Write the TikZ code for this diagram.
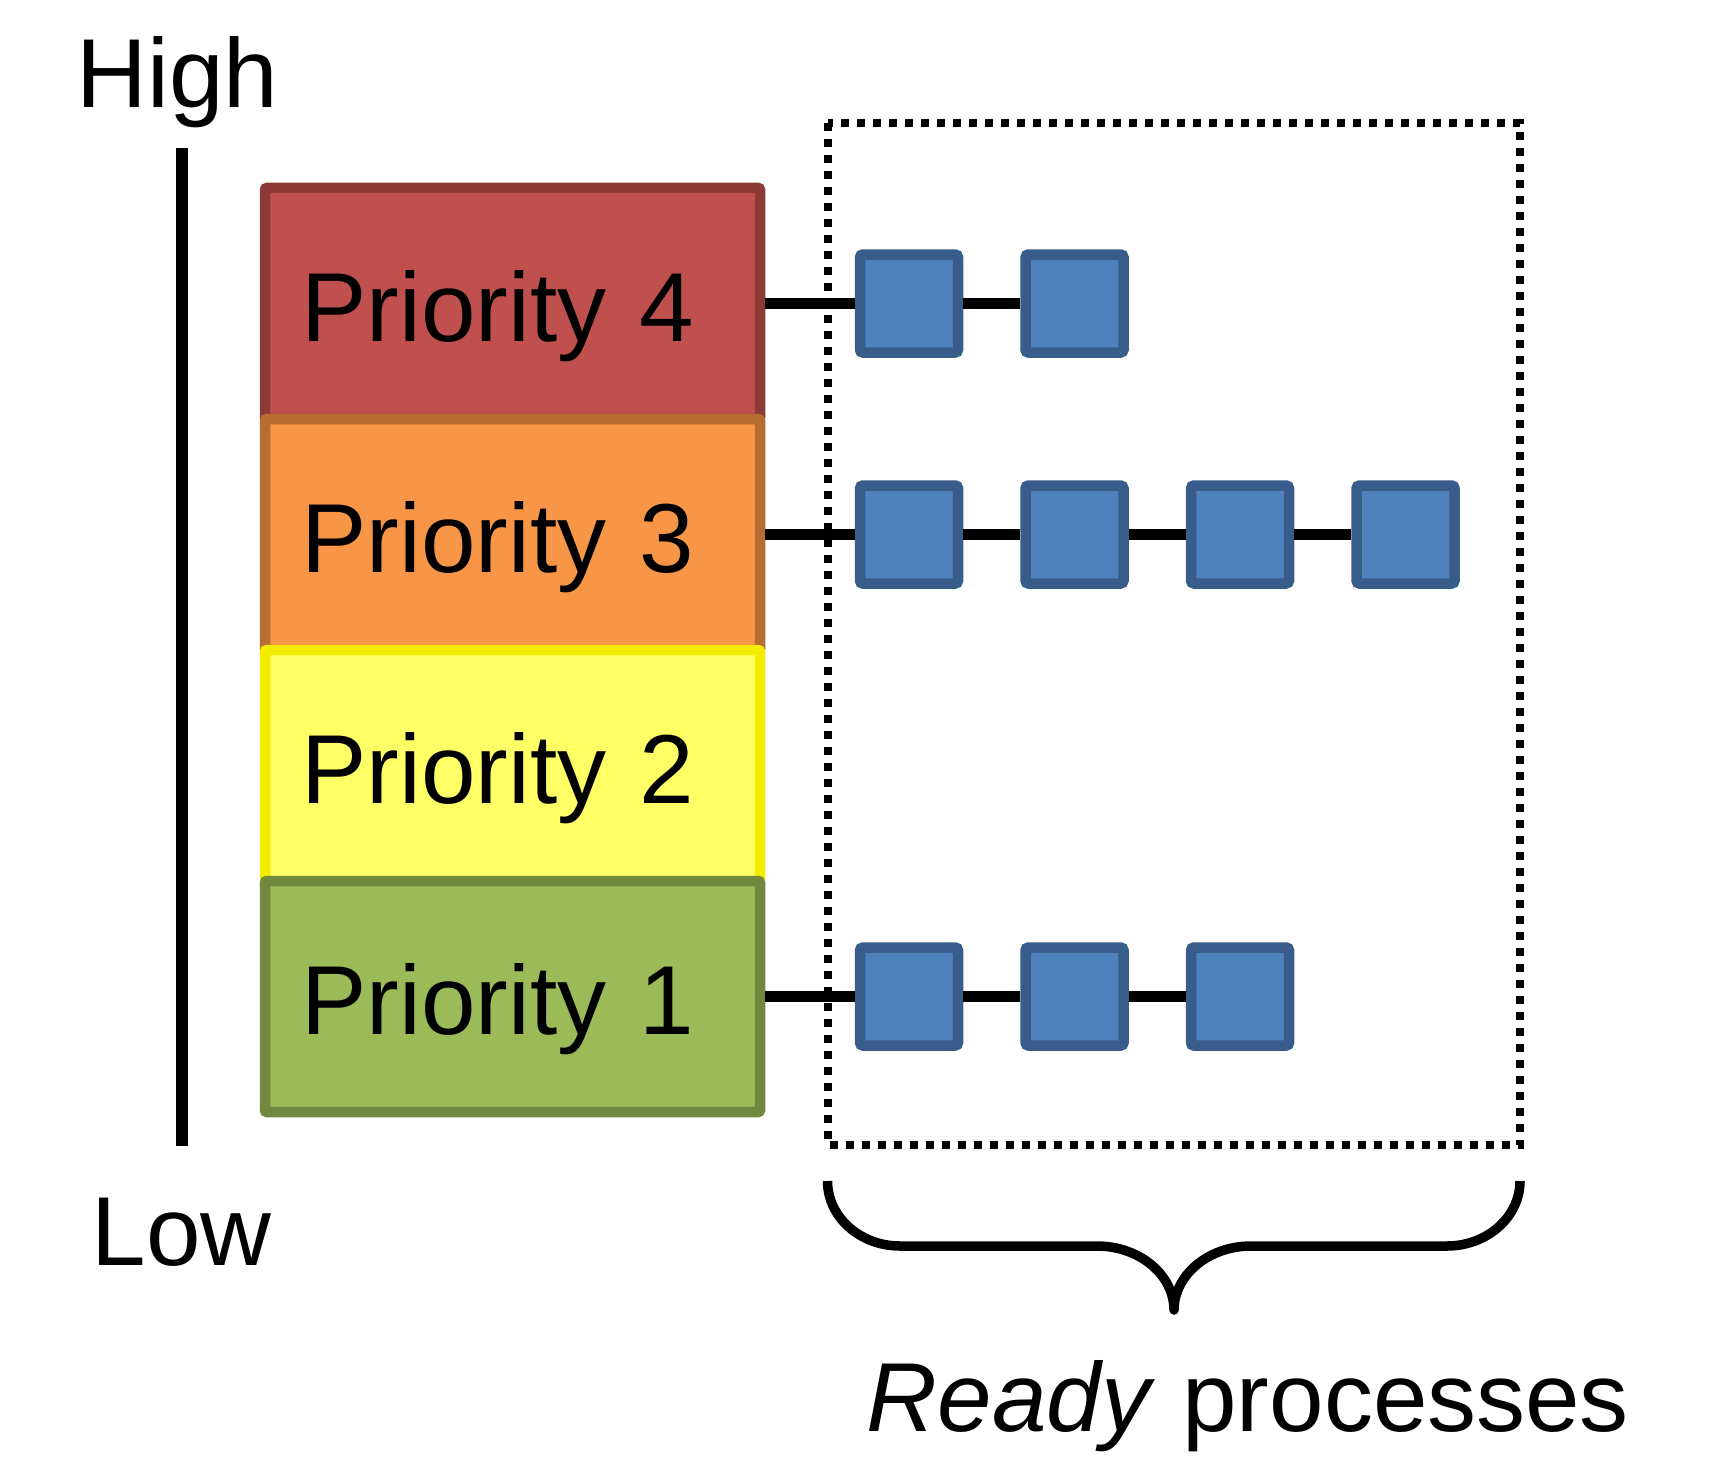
\documentclass[tikz,border=0pt]{standalone}
\usepackage{fontspec}
\setmainfont{Liberation Sans}
\definecolor{p4fill}{HTML}{C0504D}
\definecolor{p4line}{HTML}{8C3A38}
\definecolor{p3fill}{HTML}{F79646}
\definecolor{p3line}{HTML}{B66D31}
\definecolor{p2fill}{HTML}{FFFF66}
\definecolor{p2line}{HTML}{F3EC00}
\definecolor{p1fill}{HTML}{9BBB59}
\definecolor{p1line}{HTML}{71893F}
\definecolor{sqfill}{HTML}{4F81BD}
\definecolor{sqline}{HTML}{385D8A}
\begin{document}
\begin{tikzpicture}[x=1pt,y=-1pt,
  bigfont/.style={font=\fontsize{98}{110}\selectfont},
  prio/.style={rectangle, bigfont, line width=10.5pt, minimum height=231pt,
    text width=422pt, inner xsep=36.5pt, inner ysep=0pt, align=left,
    text height=76pt, text depth=0pt, rounded corners=2pt},
  proc/.style={rectangle, fill=sqfill, draw=sqline, line width=10.5pt,
    minimum size=98pt, inner sep=0pt, rounded corners=3pt},
  conn/.style={line width=10.5pt, black},
  frame/.style={line width=8pt, dash pattern=on 8pt off 8pt},
  label/.style={bigfont, anchor=base, inner sep=0pt}]
\useasboundingbox (0,0) rectangle (1726,1474);

% scale labels and axis
\node[label] (high) at (177.5,108) {High};
\node[label] (low) at (181.5,1265) {Low};
\coordinate (axtop) at (182,148);
\coordinate (axbot) at (182,1146);
\draw[line width=12pt] (axtop) -- (axbot);

% priority boxes
\node[prio, fill=p4fill, draw=p4line] (p4) at (512.5,303.5) {Priority 4};
\node[prio, fill=p3fill, draw=p3line] (p3) at (512.5,534.5) {Priority 3};
\node[prio, fill=p2fill, draw=p2line] (p2) at (512.5,765.5) {Priority 2};
\node[prio, fill=p1fill, draw=p1line] (p1) at (512.5,996.5) {Priority 1};

% processes
\node[proc] (s41) at (909,303.5) {};
\node[proc] (s42) at (1074.5,303.5) {};
\node[proc] (s31) at (909,534.5) {};
\node[proc] (s32) at (1074.5,534.5) {};
\node[proc] (s33) at (1240,534.5) {};
\node[proc] (s34) at (1405.5,534.5) {};
\node[proc] (s11) at (909,996.5) {};
\node[proc] (s12) at (1074.5,996.5) {};
\node[proc] (s13) at (1240,996.5) {};

% connectors
\draw[conn] (p4.east) -- (s41.west);
\draw[conn] (s41.east) -- (s42.west);
\draw[conn] (p3.east) -- (s31.west);
\draw[conn] (s31.east) -- (s32.west);
\draw[conn] (s32.east) -- (s33.west);
\draw[conn] (s33.east) -- (s34.west);
\draw[conn] (p1.east) -- (s11.west);
\draw[conn] (s11.east) -- (s12.west);
\draw[conn] (s12.east) -- (s13.west);

% dotted frame
\draw[frame] (827.5,123) rectangle (1520,1145);

% brace
\draw[line width=9.5pt, line join=round]
  (827.5,1181) .. controls (827.5,1217) and (860,1246) .. (900,1246)
  -- (1097,1246) .. controls (1139.5,1246) and (1174,1275) .. (1174,1310)
  .. controls (1174,1275) and (1208.5,1246) .. (1251,1246)
  -- (1447,1246) .. controls (1487,1246) and (1520,1217) .. (1520,1181);

\node[label] (rp) at (1248,1431) {\textit{Ready} processes};
\end{tikzpicture}
\end{document}
